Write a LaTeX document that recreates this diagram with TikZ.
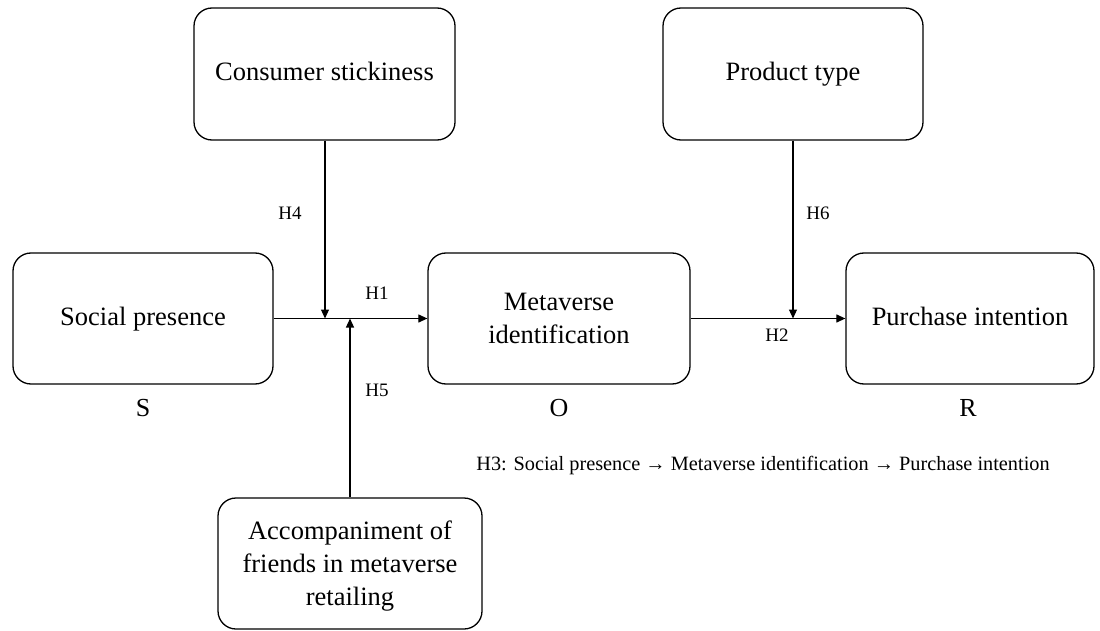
\documentclass[tikz,border=0pt]{standalone}
\usepackage{fontspec}
\setmainfont{Liberation Serif}
\usetikzlibrary{arrows.meta}
\begin{document}
\begin{tikzpicture}[x=1pt,y=-1pt,
  box/.style={draw, line width=1.3pt, rounded corners=18pt, align=center,
    inner sep=0pt, font=\fontsize{26.5}{33}\selectfont},
  conn/.style={line width=1.2pt, -{Triangle[length=9pt,width=8pt]}},
  hlab/.style={font=\fontsize{19}{21}\selectfont, inner sep=0pt},
  note/.style={font=\fontsize{20.3}{22}\selectfont, inner sep=0pt},
  big/.style={font=\fontsize{26}{28}\selectfont, inner sep=0pt}]
\useasboundingbox (0,0) rectangle (1100,631);
\node[box, minimum width=261pt, minimum height=132pt] (cs) at (324.5,74) {\strut Consumer stickiness};
\node[box, minimum width=260pt, minimum height=132pt] (pt) at (793,74) {\strut Product type};
\node[box, minimum width=260pt, minimum height=131pt] (sp) at (143,318.5) {\strut Social presence};
\node[box, minimum width=262pt, minimum height=131pt] (mi) at (559,318.5) {Metaverse\\identification};
\node[box, minimum width=248pt, minimum height=131pt] (pi) at (970,318.5) {\strut Purchase intention};
\node[box, minimum width=264pt, minimum height=131pt] (af) at (350,563.5) {\strut Accompaniment of\\friends in metaverse\\retailing};
\coordinate (j1) at (325,318.5);
\coordinate (j2) at (350,318.5);
\coordinate (j3) at (793,318.5);
\draw[conn] (sp.east) -- (mi.west);
\draw[conn] (mi.east) -- (pi.west);
\draw[conn] (cs.south -| j1) -- (j1);
\draw[conn] (af.north -| j2) -- (j2);
\draw[conn] (pt.south -| j3) -- (j3);
\node[hlab] (h4) at (290,213) {H4};
\node[hlab] (h1) at (377,293) {H1};
\node[hlab] (h6) at (818,213) {H6};
\node[hlab] (h2) at (777,335) {H2};
\node[hlab] (h5) at (377,390) {H5};
\node[big] (s) at (143,408) {S};
\node[big] (o) at (559,408) {O};
\node[big] (r) at (968,408) {R};
\node[note] (h3) at (763,466) {H3: Social presence → Metaverse identification → Purchase intention};
\end{tikzpicture}
\end{document}
